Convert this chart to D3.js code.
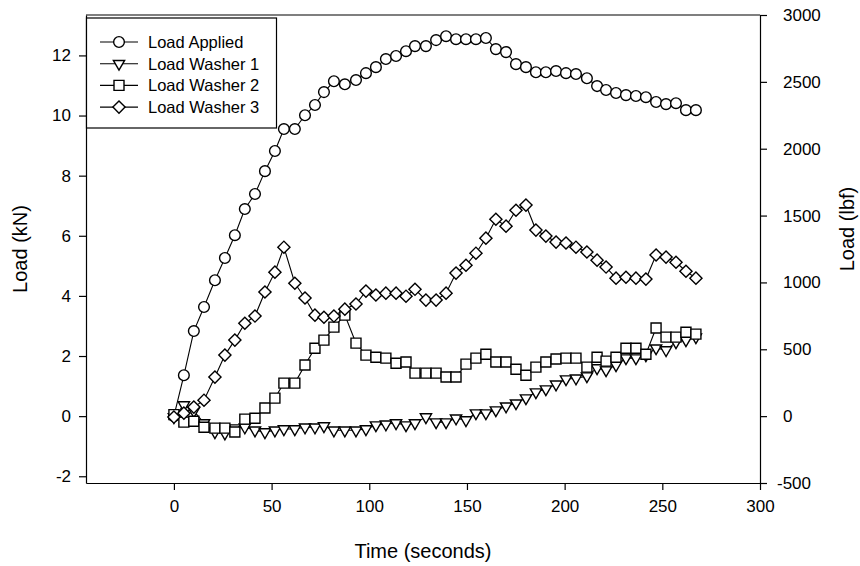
<!DOCTYPE html>
<html>
<head>
<meta charset="utf-8">
<script src="https://cdn.jsdelivr.net/npm/d3@7"></script>
<style>
  html, body { margin: 0; padding: 0; background: #fff; }
  svg { display: block; font-family: "Liberation Sans", Arial, sans-serif; }
</style>
</head>
<body>
<svg id="chart" width="860" height="566"></svg>
<script>
// Sample times (s)
const times = [0, 5.1, 10.2, 15.4, 21.0, 26.1, 31.2, 36.3, 41.5, 46.6,
  51.7, 56.3, 61.9, 67.1, 72.2, 76.8, 81.9, 87.5, 93.2, 98.3,
  103.4, 108.5, 113.7, 118.8, 123.4, 129.0, 134.2, 139.3, 144.4, 149.5,
  154.6, 159.7, 164.8, 170.0, 175.1, 180.2, 185.3, 190.4, 195.6, 200.7,
  205.8, 211.4, 216.6, 221.2, 226.3, 231.4, 236.5, 241.6, 246.8, 251.9,
  257.0, 262.1, 267.2];

// Loads (kN)
const loadApplied = [0.00, 1.36, 2.83, 3.63, 4.52, 5.26, 6.02, 6.89, 7.39, 8.15,
  8.82, 9.55, 9.55, 10.01, 10.35, 10.78, 11.14, 11.04, 11.18, 11.41,
  11.61, 11.88, 11.98, 12.14, 12.31, 12.31, 12.51, 12.64, 12.54, 12.54,
  12.54, 12.58, 12.21, 12.11, 11.71, 11.61, 11.44, 11.44, 11.48, 11.41,
  11.38, 11.24, 10.98, 10.85, 10.75, 10.68, 10.65, 10.61, 10.45, 10.38,
  10.41, 10.18, 10.18];

const loadWasher1 = [-0.03, 0.37, 0.17, -0.23, -0.53, -0.57, -0.40, -0.37, -0.47, -0.53,
  -0.47, -0.43, -0.43, -0.37, -0.37, -0.33, -0.47, -0.47, -0.47, -0.43,
  -0.30, -0.27, -0.23, -0.30, -0.23, -0.03, -0.20, -0.20, -0.07, -0.13,
  0.10, 0.10, 0.20, 0.33, 0.43, 0.60, 0.80, 0.90, 1.06, 1.23,
  1.26, 1.33, 1.60, 1.53, 1.70, 1.93, 1.93, 2.03, 2.26, 2.20,
  2.46, 2.53, 2.63];

const loadWasher2 = [0.05, -0.20, -0.17, -0.37, -0.40, -0.40, -0.53, -0.10, -0.07, 0.27,
  0.60, 1.10, 1.10, 1.70, 2.26, 2.53, 2.96, 3.36, 2.43, 2.03,
  1.96, 1.93, 1.76, 1.80, 1.43, 1.43, 1.43, 1.30, 1.30, 1.73,
  1.93, 2.06, 1.80, 1.80, 1.56, 1.36, 1.63, 1.80, 1.90, 1.93,
  1.93, 1.63, 1.96, 1.83, 1.96, 2.26, 2.26, 2.06, 2.93, 2.63,
  2.63, 2.79, 2.73];

const loadWasher3 = [-0.03, 0.10, 0.30, 0.53, 1.30, 2.03, 2.53, 3.09, 3.33, 4.13,
  4.79, 5.62, 4.42, 3.93, 3.36, 3.29, 3.33, 3.56, 3.73, 4.16,
  4.03, 4.09, 4.09, 3.99, 4.22, 3.86, 3.86, 4.09, 4.76, 5.02,
  5.42, 5.92, 6.55, 6.32, 6.85, 7.02, 6.19, 5.99, 5.79, 5.76,
  5.62, 5.46, 5.19, 4.96, 4.59, 4.62, 4.59, 4.56, 5.36, 5.29,
  5.12, 4.82, 4.59];

const seriesNames = ["Load Applied", "Load Washer 1", "Load Washer 2", "Load Washer 3"];
const xTicks = [0, 50, 100, 150, 200, 250, 300];
const kNTicks = [-2, 0, 2, 4, 6, 8, 10, 12];
const lbfTicks = [-500, 0, 500, 1000, 1500, 2000, 2500, 3000];

const LBF_PER_KN = 224.809;

const svg = d3.select("#chart");
const plotL = 86, plotR = 760, plotT = 15, plotB = 483;

const x = d3.scaleLinear().domain([-45, 300]).range([plotL, plotR]);
const yLbf = d3.scaleLinear().domain([-500, 3000]).range([plotB, plotT]);
const yKN = d3.scaleLinear().domain([-500 / LBF_PER_KN, 3000 / LBF_PER_KN]).range([plotB, plotT]);

const fmt = d => String(d);

// Frame top edge
svg.append("line").attr("x1", plotL).attr("x2", plotR).attr("y1", plotT).attr("y2", plotT)
  .attr("stroke", "#000").attr("stroke-width", 1.2);

// Bottom axis
const gx = svg.append("g").attr("transform", `translate(0,${plotB})`)
  .call(d3.axisBottom(x).tickValues(xTicks).tickSize(7).tickSizeOuter(0).tickPadding(10).tickFormat(fmt));
// Left axis (kN)
const gl = svg.append("g").attr("transform", `translate(${plotL},0)`)
  .call(d3.axisLeft(yKN).tickValues(kNTicks).tickSize(7).tickSizeOuter(0).tickPadding(8).tickFormat(fmt));
// Right axis (lbf)
const gr = svg.append("g").attr("transform", `translate(${plotR},0)`)
  .call(d3.axisRight(yLbf).tickValues(lbfTicks).tickSize(7).tickSizeOuter(0).tickPadding(16).tickFormat(fmt));

[gx, gl, gr].forEach(g => {
  g.select(".domain").attr("stroke", "#000").attr("stroke-width", 1.2);
  g.selectAll(".tick line").attr("stroke", "#000").attr("stroke-width", 1.2);
  g.selectAll(".tick text").attr("fill", "#000").attr("font-size", 17)
    .attr("font-family", "'Liberation Sans', Arial, sans-serif");
});
gr.selectAll(".tick text").filter(d => d < 0).attr("dx", -6);

// Axis titles
svg.append("text").attr("x", 423).attr("y", 558).attr("text-anchor", "middle")
  .attr("font-size", 20).text("Time (seconds)");
svg.append("text").attr("transform", "translate(27,249) rotate(-90)").attr("text-anchor", "middle")
  .attr("font-size", 20).text("Load (kN)");
svg.append("text").attr("transform", "translate(854,229) rotate(-90)").attr("text-anchor", "middle")
  .attr("font-size", 20).text("Load (lbf)");

// Marker shapes
const markers = [
  { sym: d3.symbolCircle, size: 90, rot: 0 },
  { sym: d3.symbolTriangle, size: 55, rot: 180 },
  { sym: d3.symbolSquare, size: 100, rot: 0 },
  { sym: d3.symbolSquare, size: 74, rot: 45 }
];
const seriesValues = [loadApplied, loadWasher1, loadWasher2, loadWasher3];

const line = d3.line().x(d => x(d[0])).y(d => yKN(d[1]));

seriesValues.forEach((vals, i) => {
  const pts = times.map((t, j) => [t, vals[j]]);
  const g = svg.append("g");
  g.append("path").datum(pts).attr("d", line)
    .attr("fill", "none").attr("stroke", "#000").attr("stroke-width", 1.1);
  const m = markers[i];
  const path = d3.symbol().type(m.sym).size(m.size)();
  g.selectAll("path.mk").data(pts).join("path").attr("class", "mk")
    .attr("d", path)
    .attr("transform", d => `translate(${x(d[0])},${yKN(d[1])}) rotate(${m.rot})`)
    .attr("fill", "#fff").attr("stroke", "#000").attr("stroke-width", 1.4);
});

// Legend
const lg = svg.append("g");
lg.append("rect").attr("x", 86.5).attr("y", 18).attr("width", 190).attr("height", 110)
  .attr("fill", "#fff").attr("stroke", "#000").attr("stroke-width", 1.2);
seriesNames.forEach((name, i) => {
  const cy = 42 + i * 21.7;
  lg.append("line").attr("x1", 100).attr("x2", 138).attr("y1", cy).attr("y2", cy)
    .attr("stroke", "#000").attr("stroke-width", 1.1);
  const m = markers[i];
  lg.append("path").attr("d", d3.symbol().type(m.sym).size(m.size)())
    .attr("transform", `translate(119,${cy}) rotate(${m.rot})`)
    .attr("fill", "#fff").attr("stroke", "#000").attr("stroke-width", 1.4);
  lg.append("text").attr("x", 148).attr("y", cy + 6).attr("font-size", 16.5).text(name);
});
</script>
</body>
</html>
